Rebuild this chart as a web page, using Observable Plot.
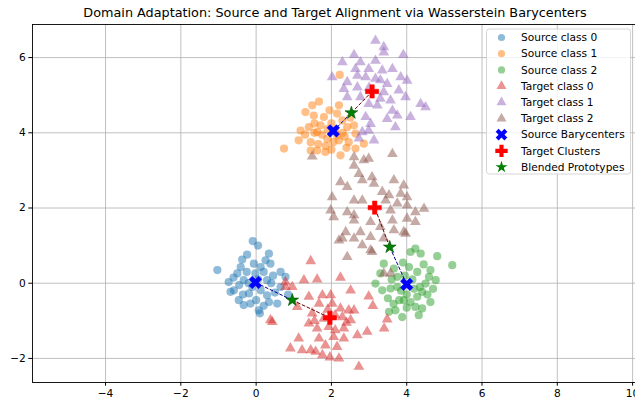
<!DOCTYPE html>
<html><head><meta charset="utf-8">
<script src="https://cdn.jsdelivr.net/npm/d3@7"></script>
<script src="https://cdn.jsdelivr.net/npm/@observablehq/plot@0.6"></script>
<style>body{margin:0;background:#fff;overflow:hidden;} #chart{width:635px;height:404px;overflow:hidden;} #chart svg{display:block;max-width:none !important;width:650px !important;height:404px !important;}</style>
</head><body><div id="chart"></div>
<script>
const titleText = "Domain Adaptation: Source and Target Alignment via Wasserstein Barycenters";

const sourceClass0 = [[-0.09,1.12],[0.05,1.0],[-0.24,0.76],[0.34,0.79],[0.25,0.61],[-0.37,0.63],[-1.03,0.35],[0.12,0.43],[0.38,0.52],[0.65,0.3],[0.78,0.17],[-0.73,0.03],[-0.59,-0.19],[-0.46,-0.45],[-0.33,-0.58],[0.07,-0.72],[-0.15,-0.54],[0.34,-0.5],[0.56,-0.54],[0.65,-0.1],[-0.5,0.26],[-0.33,0.08],[0.29,0.08],[0.12,-0.19],[-0.19,-0.27],[0.29,-0.32],[-0.41,0.43],[-0.06,0.52],[-0.68,-0.23],[-0.02,0.26],[0.45,0.2],[-0.25,0.3],[0.2,0.3],[-0.1,-0.1],[0.05,0.1],[-0.45,-0.05],[0.5,-0.25],[0.1,-0.8],[-0.2,0.0],[0.4,0.0],[0.85,-0.3],[-0.6,0.15],[0.0,-0.45],[0.2,-0.6],[-0.35,-0.3]];
const sourceClass1 = [[1.67,4.83],[1.49,4.73],[1.31,4.55],[1.53,4.46],[1.8,4.42],[2.2,4.73],[2.15,4.51],[1.18,4.06],[1.13,3.8],[0.74,3.58],[1.45,3.75],[1.62,3.53],[1.84,3.49],[2.24,3.4],[2.46,3.75],[2.64,3.98],[2.42,4.15],[2.29,4.33],[1.71,4.2],[1.62,4.02],[1.89,3.84],[2.15,3.93],[2.64,3.58],[2.86,3.71],[1.45,3.53],[2.22,5.54],[1.9,4.1],[2.05,3.75],[1.75,3.95],[2.35,3.9],[1.55,4.25],[2.0,4.25],[1.95,4.6],[2.3,4.0],[1.4,4.15],[2.5,4.4],[1.85,3.65],[2.1,4.05],[1.65,3.7],[2.6,4.2],[1.3,3.95],[2.0,3.55],[2.4,3.6],[1.55,4.0],[2.2,3.8]];
const sourceClass2 = [[4.23,0.92],[4.37,0.79],[4.1,0.83],[4.81,0.72],[5.21,0.48],[3.39,0.52],[3.3,0.26],[3.17,-0.01],[3.35,-0.19],[3.57,-0.14],[3.75,0.17],[4.28,0.3],[4.63,0.35],[4.77,0.08],[4.5,-0.01],[4.41,-0.23],[4.63,-0.5],[4.28,-0.36],[3.92,-0.45],[3.7,-0.72],[3.53,-0.76],[3.88,-0.9],[4.23,-0.63],[4.41,-0.67],[4.32,-0.85],[3.66,0.39],[4.06,0.43],[4.59,0.17],[4.0,-0.3],[3.85,-0.2],[4.15,0.1],[3.6,0.1],[3.95,0.2],[4.1,-0.5],[3.8,-0.45],[4.35,-0.1],[3.5,-0.4],[4.55,-0.3],[3.9,0.55],[4.2,-0.15],[3.75,-0.1],[4.45,0.5],[4.0,-0.65],[3.65,-0.55],[4.7,-0.15]];
const targetClass0 = [[1.62,0.1],[2.24,0.15],[1.27,0.08],[0.96,-0.1],[2.51,-0.19],[1.98,-0.32],[1.76,-0.32],[1.4,-0.36],[1.09,-0.63],[1.67,-0.54],[2.02,-0.54],[2.24,-0.67],[2.46,-0.72],[1.49,-0.8],[1.8,-0.94],[2.29,-0.9],[2.51,-0.98],[0.43,-1.03],[1.4,-1.07],[1.62,-1.2],[1.93,-1.16],[2.33,-1.2],[2.95,-1.29],[2.69,-1.38],[1.13,-1.47],[1.67,-1.47],[2.06,-1.43],[2.33,-1.47],[1.84,-1.65],[2.15,-1.69],[0.91,-1.73],[1.22,-1.78],[1.45,-1.78],[1.58,-1.82],[1.76,-1.91],[2.2,-2.0],[1.96,-1.97],[2.73,-2.22],[0.78,-0.1],[1.45,0.59],[0.38,-0.98],[0.78,0.03],[2.99,-0.35],[3.48,-0.96],[2.6,-0.72],[2.1,-0.85],[1.9,-0.7],[2.4,-1.05],[1.55,-1.0],[2.1,-1.25],[3.1,-0.6],[3.4,-1.2]];
const targetClass1 = [[3.17,6.45],[3.39,6.28],[3.39,6.14],[3.91,6.07],[2.6,6.07],[2.29,5.88],[2.77,5.88],[3.17,5.92],[2.64,5.7],[2.99,5.7],[3.35,5.66],[3.62,5.7],[2.02,5.48],[2.69,5.52],[2.91,5.48],[3.17,5.44],[3.84,5.48],[2.42,5.35],[3.48,5.3],[4.01,5.39],[2.33,5.17],[2.69,5.21],[3.39,5.08],[3.79,5.13],[2.42,4.95],[2.77,4.95],[3.3,4.91],[3.57,4.86],[3.97,4.95],[2.99,4.77],[3.22,4.73],[4.37,4.77],[4.5,4.68],[3.62,4.59],[3.75,4.46],[4.1,4.42],[3.48,4.37],[2.91,4.42],[3.04,4.24],[3.7,4.15],[2.99,4.06],[2.82,4.02],[3.13,3.8],[2.73,3.85],[3.0,5.2],[3.3,5.4]];
const targetClass2 = [[3.62,3.44],[1.49,3.37],[2.6,3.13],[2.73,2.91],[3.08,2.82],[2.82,2.74],[2.24,2.69],[2.42,2.56],[3.13,2.65],[3.66,2.74],[3.92,2.6],[3.84,2.38],[3.35,2.43],[3.53,2.34],[4.01,2.29],[2.02,2.29],[2.6,2.2],[2.82,2.2],[3.44,2.2],[3.75,2.12],[4.01,2.07],[4.46,1.98],[1.98,1.94],[2.42,1.89],[2.6,1.81],[3.57,1.94],[4.23,1.89],[2.06,1.76],[2.6,1.67],[3.04,1.63],[3.62,1.67],[4.01,1.72],[4.23,1.63],[3.3,1.5],[3.66,1.41],[2.38,1.36],[2.77,1.36],[3.92,1.36],[3.04,1.23],[3.39,1.19],[2.2,1.14],[2.6,1.19],[2.82,1.01],[2.29,1.19],[3.04,0.88],[2.42,0.7],[3.08,0.83],[3.57,0.26],[3.39,0.26],[3.97,1.32],[2.6,3.35],[2.86,3.27],[2.99,3.31]];

const sourceBarycenters = [[-0.02,0.02],[2.05,4.05],[4.0,-0.03]];
const targetClusters = [[1.96,-0.92],[3.08,5.1],[3.15,2.01]];
const blendedPrototypes = [[0.96,-0.45],[2.53,4.53],[3.55,0.96]];

const xTicks = [-4,-2,0,2,4,6,8,10];
const yTicks = [-2,0,2,4,6];
const legendLabels = ["Source class 0","Source class 1","Source class 2","Target class 0","Target class 1","Target class 2","Source Barycenters","Target Clusters","Blended Prototypes"];
const classColors = ["#1f77b4","#ff7f0e","#2ca02c","#d62728","#9467bd","#8c564b"];

const sources = [sourceClass0, sourceClass1, sourceClass2];
const targets = [targetClass0, targetClass1, targetClass2];
const rows = (arr) => arr.map(([x, y]) => ({x, y}));

const srcLinks = sourceBarycenters.map((s, i) => ({x1: s[0], y1: s[1], x2: blendedPrototypes[i][0], y2: blendedPrototypes[i][1]}));
const tgtLinks = blendedPrototypes.map((b, i) => ({x1: b[0], y1: b[1], x2: targetClusters[i][0], y2: targetClusters[i][1]}));

const font = "DejaVu Sans, sans-serif";
const marks = [
  Plot.gridX(xTicks, {stroke: "#b0b0b0", strokeOpacity: 1, strokeWidth: 0.8}),
  Plot.gridY(yTicks, {stroke: "#b0b0b0", strokeOpacity: 1, strokeWidth: 0.8}),
];
sources.forEach((s, i) => marks.push(Plot.dot(rows(s), {x: "x", y: "y", r: 4.1, fill: classColors[i], fillOpacity: 0.5, symbol: "circle"})));
targets.forEach((t, i) => marks.push(Plot.dot(rows(t), {x: "x", y: "y", r: 4.0, fill: classColors[i + 3], fillOpacity: 0.5, symbol: "triangle"})));
marks.push(
  Plot.link(srcLinks, {x1: "x1", y1: "y1", x2: "x2", y2: "y2", stroke: "#00008b", strokeWidth: 1, strokeDasharray: "3.7,1.6"}),
  Plot.link(tgtLinks, {x1: "x1", y1: "y1", x2: "x2", y2: "y2", stroke: "#6b0000", strokeWidth: 1, strokeDasharray: "3.7,1.6"}),
  Plot.dot(rows(sourceBarycenters), {x: "x", y: "y", symbol: "cross", rotate: 45, r: 5.6, fill: "blue", stroke: "blue", strokeWidth: 0.5}),
  Plot.dot(rows(targetClusters), {x: "x", y: "y", symbol: "cross", r: 5.6, fill: "red", stroke: "red", strokeWidth: 0.5}),
  Plot.dot(rows(blendedPrototypes), {x: "x", y: "y", symbol: "star", r: 4.0, fill: "green", stroke: "#005000", strokeWidth: 0.6}),
  Plot.frame({stroke: "black", strokeWidth: 0.9}),
  Plot.axisX(xTicks, {tickSize: 3.7, tickPadding: 3, fontSize: 10.6, label: null}),
  Plot.axisY(yTicks, {tickSize: 3.7, tickPadding: 3, fontSize: 10.6, label: null}),
  Plot.text([titleText], {frameAnchor: "top", lineAnchor: "middle", dy: -12, fontSize: 12.8, fill: "black"})
);

const chart = Plot.plot({
  width: 650, height: 404,
  marginLeft: 32, marginRight: 13, marginTop: 24, marginBottom: 22,
  style: {fontFamily: font, background: "white", color: "black", maxWidth: "none"},
  x: {domain: [-5.94, 10.13]},
  y: {domain: [-2.64, 6.88]},
  marks
});
document.getElementById("chart").appendChild(chart);

// legend
const svg = d3.select(chart);
const lg = svg.append("g").attr("font-family", font).attr("font-size", 10.6).attr("text-anchor", "start");
lg.append("rect").attr("x", 486.5).attr("y", 29).attr("width", 144).attr("height", 145)
  .attr("rx", 2.5).attr("fill", "white").attr("fill-opacity", 0.8).attr("stroke", "#cccccc").attr("stroke-width", 0.8);
const specs = [
  {type: d3.symbolCircle, fill: classColors[0], op: 0.5, r: 3.6},
  {type: d3.symbolCircle, fill: classColors[1], op: 0.5, r: 3.6},
  {type: d3.symbolCircle, fill: classColors[2], op: 0.5, r: 3.6},
  {type: d3.symbolTriangle, fill: classColors[3], op: 0.5, r: 3.7},
  {type: d3.symbolTriangle, fill: classColors[4], op: 0.5, r: 3.7},
  {type: d3.symbolTriangle, fill: classColors[5], op: 0.5, r: 3.7},
  {type: d3.symbolCross, fill: "blue", op: 1, r: 5.2, rot: 45},
  {type: d3.symbolCross, fill: "red", op: 1, r: 5.2},
  {type: d3.symbolStar, fill: "green", op: 1, r: 3.8}
];
legendLabels.forEach((label, i) => {
  const y = 37.5 + i * 16.2;
  const s = specs[i];
  lg.append("path").attr("d", d3.symbol(s.type, Math.PI * s.r * s.r)())
    .attr("transform", `translate(501.5,${y})` + (s.rot ? ` rotate(${s.rot})` : ""))
    .attr("fill", s.fill).attr("fill-opacity", s.op);
  lg.append("text").attr("x", 521).attr("y", y).attr("dy", "0.35em").attr("fill", "black").text(label);
});
</script></body></html>
